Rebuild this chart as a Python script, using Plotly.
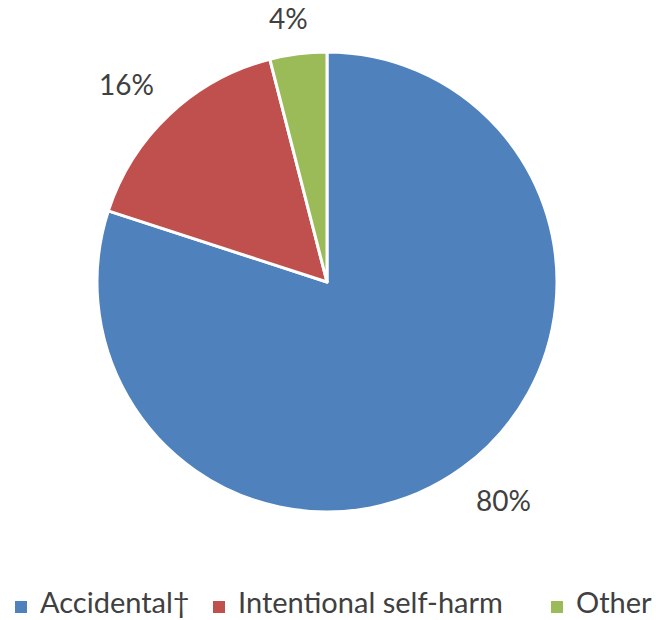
import math
import plotly.graph_objects as go

labels = ["Accidental\u2020", "Intentional self-harm", "Other"]
values = [80, 16, 4]
colors = ["#4F81BD", "#C0504D", "#9BBB59"]

W, H = 656, 620
cx, cy, r = 327, 282, 230      # pie centre / radius (px)
FONT = "Lato, Open Sans, sans-serif"
TXT = "#404040"

fig = go.Figure(go.Pie(
    labels=labels,
    values=values,
    sort=False,
    direction="clockwise",
    rotation=0,
    marker=dict(colors=colors, line=dict(color="white", width=3)),
    textinfo="none",
    hoverinfo="label+percent",
    domain=dict(x=[(cx - r) / W, (cx + r) / W], y=[1 - (cy + r) / H, 1 - (cy - r) / H]),
    showlegend=False,
))

# outside percentage labels placed from the data (mid-angle of each slice)
total = sum(values)
gap, bw, bh = 22, 56, 28
start = 0.0
for v in values:
    frac = v / total
    mid = (start + frac / 2) * 2 * math.pi
    start += frac
    s, c = math.sin(mid), math.cos(mid)
    px = cx + s * (r + gap) + max(-1, min(1, 2 * s)) * bw / 2
    py = cy - c * (r + gap) - max(-1, min(1, 2 * c)) * bh / 2
    fig.add_annotation(
        x=px / W, y=1 - py / H, xref="paper", yref="paper",
        text=f"{frac * 100:.0f}%", showarrow=False,
        xanchor="center", yanchor="middle",
        font=dict(size=28, color=TXT, family=FONT),
    )

# legend row (key squares + labels)
legend_x = [15, 213, 551]     # left edge of each key square (px)
legend_y = 607
for lx, lab, col in zip(legend_x, labels, colors):
    fig.add_shape(type="rect", xref="paper", yref="paper",
                  x0=lx / W, x1=(lx + 12) / W,
                  y0=1 - (legend_y + 6) / H, y1=1 - (legend_y - 6) / H,
                  fillcolor=col, line=dict(width=0))
    fig.add_annotation(
        x=(lx + 24) / W, y=0, xref="paper", yref="paper",
        text=lab, showarrow=False, xanchor="left", yanchor="bottom",
        borderpad=0,
        font=dict(size=29, color=TXT, family=FONT),
    )

fig.update_layout(
    width=W, height=H,
    margin=dict(l=0, r=0, t=0, b=0),
    paper_bgcolor="white",
    plot_bgcolor="white",
    font=dict(family=FONT, color=TXT),
    showlegend=False,
)

fig.write_html("out.html",
               config={"displayModeBar": False},
               post_script="document.body.style.margin='0';document.body.style.overflow='hidden';")
